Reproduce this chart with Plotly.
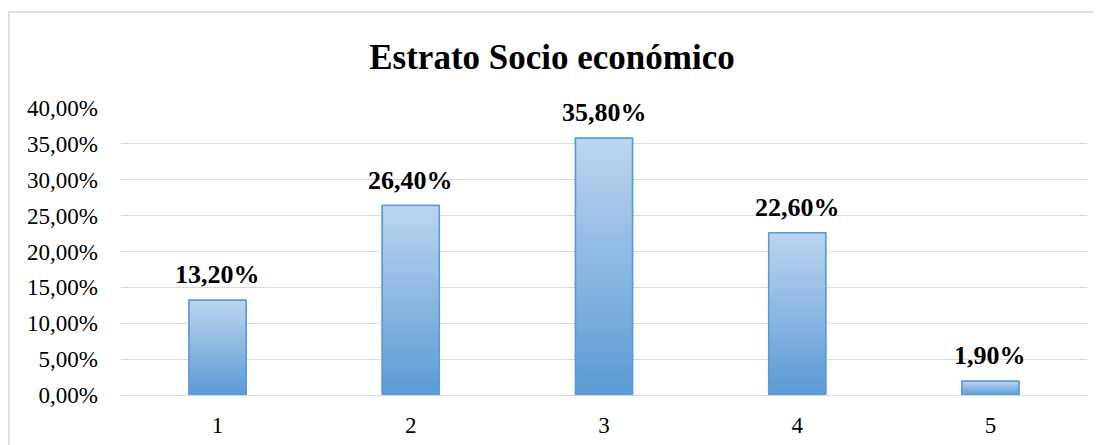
import plotly.graph_objects as go

categories = [1, 2, 3, 4, 5]
tick_labels = ["1", "2", "3", "4", "5"]
values = [0.132, 0.264, 0.358, 0.226, 0.019]
title_text = "Estrato Socio económico"

bar_width = 0.295
fill_top = "#bcd5ee"
fill_bottom = "#5a9ad6"
edge = "#5b9bd5"
font_family = "Liberation Serif, Times New Roman, serif"

OFF = 8  # page body margin
W, H = 1102 - OFF, 445 - OFF
ml, mr, mt, mb = 121 - OFF, 15, 108 - OFF, 50

fig = go.Figure()

fig.add_trace(go.Bar(
    x=categories, y=values, width=bar_width,
    marker=dict(color=fill_bottom, line=dict(color=edge, width=1.5)),
    showlegend=False, hoverinfo="skip",
))

# Gradient overlay for each bar, built from the same values
for c, v in zip(categories, values):
    x0, x1 = c - bar_width / 2, c + bar_width / 2
    fig.add_trace(go.Scatter(
        x=[x0, x1, x1, x0, x0], y=[0, 0, v, v, 0],
        mode="lines", fill="toself",
        fillgradient=dict(type="vertical",
                          colorscale=[[0, fill_bottom], [1, fill_top]]),
        line=dict(color=edge, width=1.5),
        showlegend=False, hoverinfo="skip",
    ))

# Data labels
for c, v in zip(categories, values):
    fig.add_annotation(
        x=c, y=v, xref="x", yref="y",
        text="<b>" + f"{v * 100:.2f}".replace(".", ",") + "%</b>",
        showarrow=False, yanchor="bottom", xanchor="center", yshift=9,
        font=dict(family=font_family, size=26, color="#000000"),
    )

pw = W - ml - mr
ph = H - mt - mb
fig.add_shape(
    type="rect", xref="paper", yref="paper",
    x0=(9 - OFF - ml) / pw, x1=(1200 - OFF - ml) / pw,
    y0=(H - (500 - OFF) - mb) / ph, y1=(H - (12 - OFF) - mb) / ph,
    line=dict(color="#d9d9d9", width=1.5), fillcolor="rgba(0,0,0,0)",
    layer="below",
)

fig.update_layout(
    width=W, height=H,
    margin=dict(l=ml, r=mr, t=mt, b=mb),
    paper_bgcolor="white", plot_bgcolor="white",
    separators=",.",
    title=dict(text="<b>" + title_text + "</b>", x=(552 - OFF) / W, xref="container",
               y=(H - (57 - OFF)) / H, yanchor="middle", xanchor="center",
               font=dict(family=font_family, size=35, color="#000000")),
    font=dict(family=font_family, color="#000000"),
    bargap=0.7,
)
fig.update_xaxes(
    range=[0.5, 5.5], tickvals=categories, ticktext=tick_labels,
    showgrid=False, zeroline=False, showline=False, ticks="",
    tickfont=dict(family=font_family, size=23, color="#000000"),
    ticklabelstandoff=14, automargin=False,
)
fig.update_yaxes(
    range=[0, 0.40], dtick=0.05, tickformat=".2%",
    showgrid=True, gridcolor="#d9d9d9", gridwidth=1,
    zeroline=True, zerolinecolor="#d9d9d9", zerolinewidth=1,
    showline=False, ticks="",
    tickfont=dict(family=font_family, size=23, color="#000000"),
    ticklabelstandoff=22, automargin=False,
)

fig.write_html("out.html")
